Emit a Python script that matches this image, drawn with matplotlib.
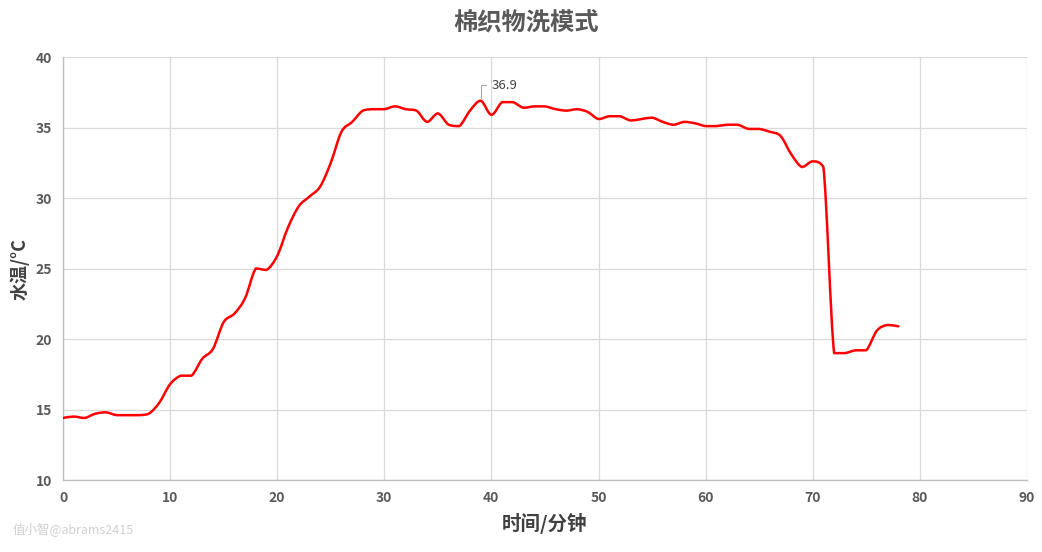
import numpy as np
import matplotlib
matplotlib.use("Agg")
import matplotlib.pyplot as plt
from matplotlib.path import Path
from matplotlib.patches import PathPatch

plt.rcParams['font.family'] = ['Noto Sans CJK SC', 'DejaVu Sans']

# minutes and water temperature
minutes = list(range(0, 79))
temps = [14.4, 14.5, 14.4, 14.7, 14.8, 14.6, 14.6, 14.6, 14.7, 15.5,
         16.8, 17.4, 17.4, 18.6, 19.3, 21.2, 21.8, 22.9, 25.0, 24.9,
         25.9, 27.9, 29.4, 30.1, 30.8, 32.5, 34.7, 35.4, 36.2, 36.3,
         36.3, 36.5, 36.3, 36.2, 35.4, 36.0, 35.2, 35.1, 36.2, 36.9,
         35.9, 36.8, 36.8, 36.4, 36.5, 36.5, 36.3, 36.2, 36.3, 36.1,
         35.6, 35.8, 35.8, 35.5, 35.6, 35.7, 35.4, 35.2, 35.4, 35.3,
         35.1, 35.1, 35.2, 35.2, 34.9, 34.9, 34.7, 34.4, 33.1, 32.2,
         32.6, 32.2, 19.0, 19.0, 19.2, 19.2, 20.6, 21.0, 20.9]

title = "棉织物洗模式"
xlabel = "时间/分钟"
ylabel = "水温/°C"
peak_label = "36.9"
watermark = "值小智@abrams2415"


def smooth_path(x, y):
    # excel-like smoothed line: catmull-rom segments as cubic beziers,
    # control points kept inside each segment's y range (no overshoot)
    x = np.asarray(x, float)
    y = np.asarray(y, float)
    n = len(x)
    verts = [(x[0], y[0])]
    codes = [Path.MOVETO]
    for i in range(n - 1):
        i0 = max(i - 1, 0)
        i3 = min(i + 2, n - 1)
        lo, hi = min(y[i], y[i + 1]), max(y[i], y[i + 1])
        c1y = np.clip(y[i] + (y[i + 1] - y[i0]) / 6.0, lo, hi)
        c2y = np.clip(y[i + 1] - (y[i3] - y[i]) / 6.0, lo, hi)
        c1 = (x[i] + (x[i + 1] - x[i0]) / 6.0, c1y)
        c2 = (x[i + 1] - (x[i3] - x[i]) / 6.0, c2y)
        verts += [c1, c2, (x[i + 1], y[i + 1])]
        codes += [Path.CURVE4] * 3
    return Path(verts, codes)


fig = plt.figure(figsize=(10.42, 5.52), dpi=100)
ax = fig.add_axes([0.0605, 0.1304, 0.925, 0.7663])

ax.add_patch(PathPatch(smooth_path(minutes, temps), facecolor='none',
                       edgecolor='#ff0000', lw=1.8, zorder=3,
                       capstyle='round', joinstyle='round'))

ax.set_xlim(0, 90)
ax.set_ylim(10, 40)
ax.set_xticks(range(0, 91, 10))
ax.set_yticks(range(10, 41, 5))
ax.grid(True, color='#d9d9d9', lw=0.9)
ax.set_axisbelow(True)
for s in ['top', 'right']:
    ax.spines[s].set_visible(False)
for s in ['left', 'bottom']:
    ax.spines[s].set_color('#bfbfbf')
    ax.spines[s].set_linewidth(1.0)
ax.tick_params(length=0, pad=8, labelsize=10, labelcolor='#595959')
for lab in ax.get_xticklabels() + ax.get_yticklabels():
    lab.set_fontweight('bold')

# peak annotation
ipk = int(np.argmax(temps))
ax.annotate(peak_label, xy=(minutes[ipk], temps[ipk]), xytext=(8, 11),
            textcoords='offset points', fontsize=9.5, color='#404040',
            va='center', ha='left',
            arrowprops=dict(arrowstyle='-', color='#a6a6a6', lw=0.8,
                            connectionstyle='angle,angleA=0,angleB=90,rad=0',
                            shrinkA=2, shrinkB=2))

ax.set_xlabel(xlabel, fontsize=14, fontweight='bold', color='#404040', labelpad=6)
ax.set_ylabel(ylabel, fontsize=13, fontweight='bold', color='#404040', labelpad=4)

fig.text(0.505, 0.96, title, ha='center', va='center', fontsize=17.5,
         fontweight='bold', color='#595959')
fig.text(0.012, 0.04, watermark, ha='left', va='center', fontsize=9,
         color='#d0d0d0')

fig.savefig('out.png', dpi=100)
